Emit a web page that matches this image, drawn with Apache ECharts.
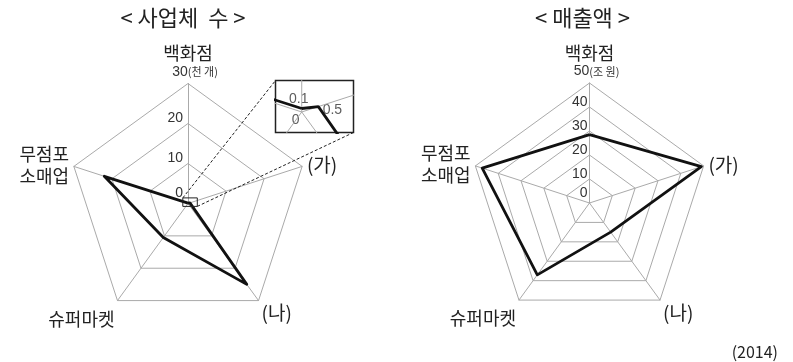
<!DOCTYPE html>
<html>
<head>
<meta charset="utf-8">
<title>사업체 수와 매출액</title>
<script src="https://cdn.jsdelivr.net/npm/echarts@6/dist/echarts.min.js"></script>
<style>
  html, body { margin: 0; padding: 0; background: #fff; }
  #main { width: 793px; height: 362px; }
</style>
</head>
<body>
<div id="main"></div>
<script>
// indicator order: top, then counter-clockwise (ECharts radar default)
var indicatorNames = ['백화점', '무점포\n소매업', '슈퍼마켓', '(나)', '(가)'];
var countValues = [0.1, 22, 10.5, 25, 0.5];    // 사업체 수 (천 개)
var salesValues = [28.5, 47, 37, 15, 49];      // 매출액 (조 원)
var countMax = 30, countSplit = 3, countUnit = '(천 개)';
var salesMax = 50, salesSplit = 5, salesUnit = '(조 원)';
var titles = ['< 사업체  수 >', '< 매출액 >'];
var yearText = '(2014)';

var font = "'Noto Sans CJK KR', sans-serif";
var numFont = "'Liberation Sans Narrow', 'Liberation Sans', sans-serif";
var gridColor = '#aaa';
var leftCenter = [188, 203.5], rightCenter = [589.5, 203];

function radarOpt(center, max, split, unit, margin) {
    return {
        center: center,
        radius: 120,
        startAngle: 90,
        shape: 'polygon',
        splitNumber: split,
        nameGap: 5,
        indicator: indicatorNames.map(function (name, i) {
            var ind = {name: name, min: 0, max: max};
            if (i === 0) ind.axisLabel = {show: true};
            return ind;
        }),
        axisName: {
            color: '#222',
            fontFamily: font,
            fontSize: 18,
            lineHeight: 22,
            formatter: function (name) {
                if (name === indicatorNames[0]) {
                    return '{t|' + name + '}\n{v|' + max + '}{u|' + unit + '}';
                }
                if (name === indicatorNames[2]) return '{s|' + name + '}';
                if (name === indicatorNames[3]) return '{n|' + name + '}';
                if (name === indicatorNames[4]) return '{g|' + name + '}';
                return name;
            },
            rich: {
                t: {fontFamily: font, fontSize: 18, lineHeight: 24, color: '#222'},
                v: {fontFamily: numFont, fontSize: 14, lineHeight: 13, color: '#333', padding: [0, 0, 0, 14]},
                u: {fontFamily: font, fontSize: 11, lineHeight: 13, color: '#333'},
                s: {fontFamily: font, fontSize: 18, lineHeight: 22, color: '#222', padding: [29, 0, 0, 0]},
                n: {fontFamily: font, fontSize: 19, lineHeight: 22, color: '#222', padding: [17, 0, 0, 0]},
                g: {fontFamily: font, fontSize: 19, lineHeight: 22, color: '#222'}
            }
        },
        axisLine: {lineStyle: {color: gridColor, width: 1}},
        splitLine: {lineStyle: {color: gridColor, width: 1}},
        splitArea: {show: false},
        axisTick: {show: false},
        axisLabel: {
            show: false,
            margin: margin,
            color: '#333',
            fontFamily: numFont,
            fontSize: 14,
            padding: [0, 0, 10, 0],
            formatter: function (v) {
                if (v === max) return '';
                if (v === 0) return '{z|0}';
                return String(v);
            },
            rich: {
                z: {fontFamily: numFont, fontSize: 14, color: '#333', padding: [0, 0, 10, 0]}
            }
        }
    };
}

// magnified view of the centre of the left radar
function toInset(v, i) {
    var a = Math.PI / 2 + i * 2 * Math.PI / indicatorNames.length;
    return [v * Math.cos(a), v * Math.sin(a)];
}
var insetLine = countValues.map(toInset);
insetLine.push(insetLine[0]);

var insetSeries = indicatorNames.map(function (n, i) {
    return {
        type: 'line', xAxisIndex: 0, yAxisIndex: 0, silent: true,
        symbol: 'none', clip: true,
        lineStyle: {color: gridColor, width: 1},
        data: [[0, 0], toInset(countMax, i)]
    };
});
insetSeries.push({
    type: 'line', xAxisIndex: 0, yAxisIndex: 0, silent: true,
    symbol: 'none', clip: true,
    lineStyle: {color: '#111', width: 2.8},
    data: insetLine
});
insetSeries.push({
    type: 'scatter', xAxisIndex: 0, yAxisIndex: 0, silent: true,
    symbolSize: 1,
    itemStyle: {color: 'rgba(0,0,0,0)'},
    label: {show: true, position: 'inside', color: '#333', fontFamily: numFont, fontSize: 14},
    data: [
        {value: [0, 0], label: {formatter: '0', offset: [-6, 8]}},
        {value: toInset(countValues[0], 0), label: {formatter: String(countValues[0]), offset: [-3, -9]}},
        {value: toInset(countValues[4], 4), label: {formatter: String(countValues[4]), offset: [14, 4]}}
    ]
});

var inset = {left: 275.5, top: 80.5, width: 78, height: 52};
var box = {x: leftCenter[0] - 5.2, y: leftCenter[1] - 5.6, w: 14.5, h: 8.5};
var dash = {stroke: '#222', lineWidth: 1, lineDash: [3, 2]};

var option = {
    animation: false,
    backgroundColor: '#fff',
    radar: [
        radarOpt(leftCenter, countMax, countSplit, countUnit, 5),
        radarOpt(rightCenter, salesMax, salesSplit, salesUnit, 2)
    ],
    grid: [{
        left: inset.left, top: inset.top, width: inset.width, height: inset.height,
        show: true, borderColor: '#222', borderWidth: 1.5, backgroundColor: '#fff'
    }],
    xAxis: [{gridIndex: 0, type: 'value', min: -0.75, max: 1.48, show: false}],
    yAxis: [{gridIndex: 0, type: 'value', min: -0.586, max: 0.9, show: false}],
    series: [
        {
            type: 'radar', radarIndex: 0, symbol: 'none', silent: true,
            lineStyle: {color: '#111', width: 2.8},
            data: [{value: countValues, name: '사업체 수'}]
        },
        {
            type: 'radar', radarIndex: 1, symbol: 'none', silent: true,
            lineStyle: {color: '#111', width: 2.8},
            data: [{value: salesValues, name: '매출액'}]
        }
    ].concat(insetSeries),
    graphic: [
        {type: 'text', x: 183, y: 18, style: {text: titles[0], font: '22px ' + font, fill: '#222', align: 'center', verticalAlign: 'middle'}},
        {type: 'text', x: 582.5, y: 18, style: {text: titles[1], font: '22px ' + font, fill: '#222', align: 'center', verticalAlign: 'middle'}},
        {type: 'text', x: 778, y: 352, style: {text: yearText, font: '16px ' + font, fill: '#222', align: 'right', verticalAlign: 'middle'}},
        {type: 'rect', z: 100, shape: {x: box.x, y: box.y, width: box.w, height: box.h}, style: {fill: 'none', stroke: '#222', lineWidth: 1}},
        {type: 'line', z: 100, shape: {x1: box.x, y1: box.y, x2: inset.left, y2: inset.top}, style: dash},
        {type: 'line', z: 100, shape: {x1: box.x + box.w, y1: box.y + box.h, x2: inset.left + inset.width, y2: inset.top + inset.height}, style: dash}
    ]
};

var chart = echarts.init(document.getElementById('main'));
chart.setOption(option);
</script>
</body>
</html>
